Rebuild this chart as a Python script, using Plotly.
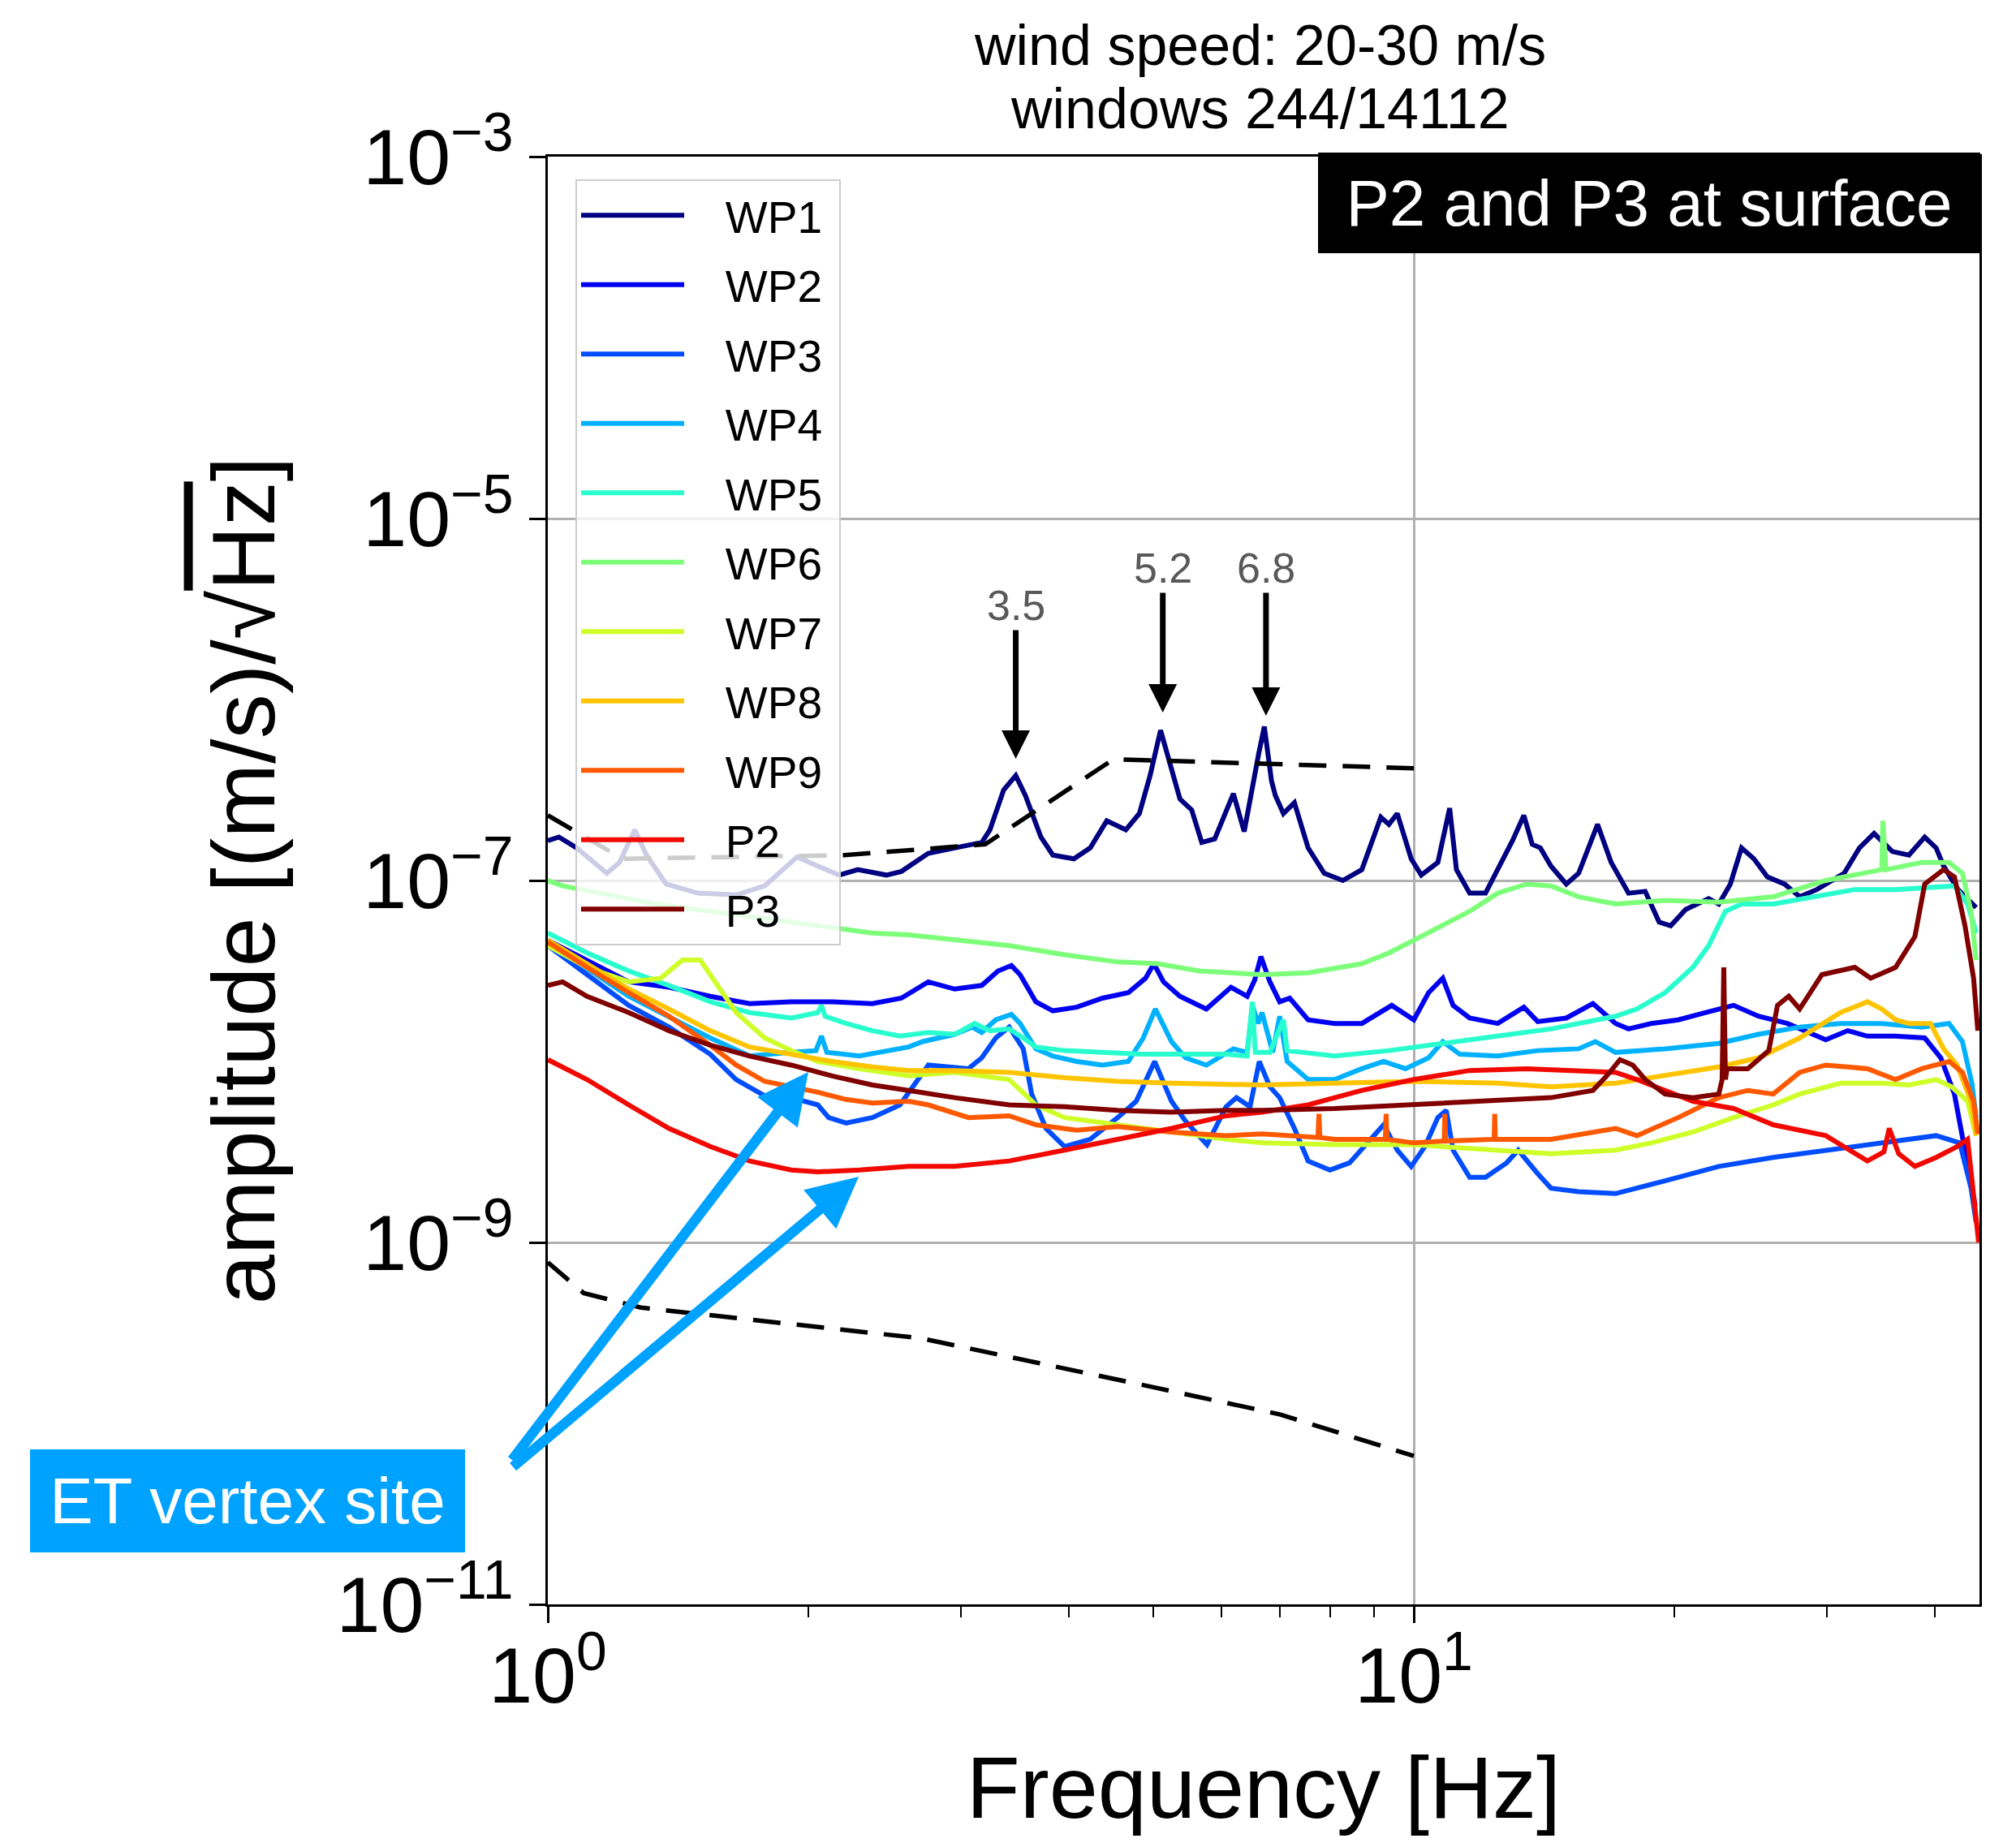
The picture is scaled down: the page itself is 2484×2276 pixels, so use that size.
import math
import plotly.graph_objects as go

FONT = "Liberation Sans, Arial, Helvetica, sans-serif"

# ---------------- data (frequency in Hz, amplitude as log10 of (m/s)/sqrt(Hz)) ----------------
series_names = ["WP1", "WP2", "WP3", "WP4", "WP5", "WP6", "WP7", "WP8", "WP9", "P2", "P3"]
series_colors = ["#000080", "#0000f1", "#004dff", "#00b1ff", "#29ffce", "#7dff7a",
                 "#ceff29", "#ffc400", "#ff5900", "#f10800", "#800000"]

WP1_f = [1.0, 1.03, 1.08, 1.17, 1.21, 1.26, 1.30, 1.37, 1.49, 1.65, 1.78, 1.87, 1.94, 2.05, 2.17, 2.28,
         2.46, 2.56, 2.75, 2.95, 3.17, 3.24, 3.36, 3.47, 3.56, 3.71, 3.83, 4.05, 4.23, 4.42, 4.65, 4.82,
         4.96, 5.10, 5.25, 5.37, 5.54, 5.69, 5.89, 6.19, 6.37, 6.51, 6.62, 6.72, 6.85, 6.92, 7.07, 7.28,
         7.55, 7.88, 8.28, 8.71, 9.16, 9.36, 9.57, 9.93, 10.2, 10.66, 10.8, 11.0, 11.2, 11.6, 12.1, 12.8,
         13.0, 13.4, 13.7, 14.0, 14.4, 15.0, 15.5, 16.3, 16.9, 17.7, 18.5, 19.2, 19.8, 20.6, 21.9, 22.5,
         23.2, 23.9, 24.7, 25.6, 26.8, 27.9, 29.2, 31.4, 32.7, 34.0, 35.7, 37.3, 38.9, 40.1, 40.9, 42.5,
         44.6]
WP1_amp = [-6.78, -6.76, -6.82, -6.96, -6.90, -6.72, -6.86, -7.02, -7.07, -7.08, -7.03, -6.94, -6.87,
           -6.92, -6.97, -6.94, -6.97, -6.95, -6.85, -6.82, -6.79, -6.72, -6.50, -6.42, -6.53, -6.76,
           -6.86, -6.88, -6.82, -6.67, -6.72, -6.63, -6.42, -6.17, -6.38, -6.55, -6.61, -6.79, -6.77,
           -6.52, -6.73, -6.47, -6.30, -6.15, -6.45, -6.53, -6.63, -6.57, -6.82, -6.96, -7.00, -6.94,
           -6.65, -6.69, -6.63, -6.88, -6.97, -6.90, -6.78, -6.60, -6.94, -7.07, -7.07, -6.84, -6.78,
           -6.64, -6.80, -6.82, -6.92, -7.02, -6.96, -6.69, -6.90, -7.07, -7.06, -7.23, -7.25, -7.16,
           -7.10, -7.13, -7.02, -6.82, -6.88, -6.98, -7.02, -7.09, -7.05, -6.96, -6.82, -6.74, -6.84,
           -6.86, -6.76, -6.82, -6.92, -7.05, -7.15]

WP2_f = [1.0, 1.11, 1.24, 1.38, 1.54, 1.71, 1.91, 2.13, 2.37, 2.56, 2.75, 2.95, 3.17, 3.31, 3.43, 3.51,
         3.66, 3.83, 4.08, 4.37, 4.68, 4.90, 5.01, 5.14, 5.37, 5.76, 6.15, 6.42, 6.55, 6.66, 6.82, 7.00,
         7.19, 7.55, 8.10, 8.71, 9.43, 10.0, 10.4, 10.8, 11.1, 11.6, 12.5, 13.4, 13.9, 15.0, 16.1, 17.1,
         17.7, 18.8, 20.2, 21.7, 23.4, 25.0, 27.0, 29.9, 31.7, 33.4, 35.9, 38.9, 40.6, 42.1, 43.3, 44.5]
WP2_amp = [-7.33, -7.44, -7.56, -7.59, -7.64, -7.68, -7.67, -7.67, -7.68, -7.65, -7.56, -7.60, -7.58,
           -7.50, -7.47, -7.52, -7.67, -7.72, -7.70, -7.65, -7.62, -7.54, -7.46, -7.56, -7.64, -7.71,
           -7.59, -7.64, -7.55, -7.42, -7.56, -7.67, -7.65, -7.77, -7.79, -7.79, -7.69, -7.77, -7.62,
           -7.54, -7.69, -7.76, -7.79, -7.70, -7.78, -7.76, -7.68, -7.79, -7.82, -7.79, -7.77, -7.73,
           -7.69, -7.75, -7.79, -7.88, -7.83, -7.86, -7.86, -7.87, -7.98, -8.18, -8.51, -8.80]

WP3_f = [1.0, 1.11, 1.24, 1.38, 1.54, 1.65, 1.78, 1.91, 2.05, 2.11, 2.21, 2.37, 2.55, 2.75, 3.06, 3.17,
         3.29, 3.41, 3.54, 3.62, 3.76, 3.95, 4.23, 4.55, 4.78, 5.02, 5.25, 5.45, 5.77, 6.07, 6.24, 6.47,
         6.63, 6.82, 7.0, 7.28, 7.55, 8.0, 8.43, 8.84, 9.23, 9.57, 9.93, 10.3, 10.66, 10.9, 11.1, 11.6,
         12.1, 12.8, 13.2, 13.9, 14.4, 15.5, 17.1, 19.5, 22.5, 26.0, 29.9, 34.7, 40.1, 42.7, 44.0, 44.6]
WP3_amp = [-7.36, -7.52, -7.69, -7.81, -7.96, -8.10, -8.19, -8.20, -8.24, -8.31, -8.34, -8.31, -8.24,
           -8.02, -8.04, -7.98, -7.87, -7.81, -7.93, -8.18, -8.37, -8.47, -8.43, -8.31, -8.22, -8.00,
           -8.22, -8.33, -8.46, -8.25, -8.20, -8.25, -8.00, -8.14, -8.20, -8.37, -8.55, -8.60, -8.56,
           -8.45, -8.35, -8.49, -8.58, -8.47, -8.31, -8.27, -8.49, -8.64, -8.64, -8.56, -8.49, -8.62,
           -8.70, -8.72, -8.73, -8.66, -8.58, -8.53, -8.49, -8.45, -8.41, -8.45, -8.70, -8.89]

WP4_f = [1.0, 1.24, 1.54, 1.71, 1.91, 2.04, 2.07, 2.10, 2.29, 2.46, 2.61, 2.71, 2.95, 3.09, 3.17, 3.29,
         3.43, 3.51, 3.66, 3.83, 4.08, 4.37, 4.68, 4.87, 5.03, 5.25, 5.45, 5.76, 6.19, 6.42, 6.51, 6.61,
         6.68, 6.87, 7.0, 7.14, 7.55, 8.10, 8.71, 9.23, 9.78, 10.4, 10.8, 11.3, 12.5, 13.9, 15.5, 16.2,
         17.1, 19.5, 22.5, 25.0, 27.9, 31.1, 34.7, 38.6, 41.5, 43.0, 44.1, 44.6]
WP4_amp = [-7.34, -7.64, -7.87, -7.97, -7.95, -7.94, -7.86, -7.95, -7.97, -7.94, -7.92, -7.89, -7.85,
           -7.81, -7.84, -7.77, -7.74, -7.79, -7.93, -7.97, -8.00, -8.02, -8.00, -7.87, -7.71, -7.89,
           -7.98, -8.02, -7.93, -7.95, -7.69, -7.79, -7.73, -7.95, -7.75, -8.00, -8.10, -8.10, -8.04,
           -8.00, -8.04, -7.98, -7.89, -7.96, -7.97, -7.94, -7.93, -7.89, -7.95, -7.93, -7.90, -7.85,
           -7.81, -7.79, -7.79, -7.81, -7.79, -7.89, -8.12, -8.31]

WP5_f = [1.0, 1.11, 1.24, 1.38, 1.54, 1.71, 1.91, 2.05, 2.07, 2.09, 2.21, 2.37, 2.55, 2.75, 2.95, 3.11,
         3.24, 3.41, 3.54, 3.66, 3.95, 4.37, 4.84, 5.45, 6.07, 6.42, 6.51, 6.56, 6.82, 7.07, 7.14, 8.10,
         9.36, 10.8, 12.5, 14.4, 17.1, 18.1, 19.5, 21.0, 21.9, 22.9, 23.9, 26.0, 29.0, 32.3, 36.0, 40.1,
         42.1, 43.6, 44.6]
WP5_amp = [-7.29, -7.40, -7.50, -7.58, -7.67, -7.73, -7.76, -7.73, -7.69, -7.75, -7.79, -7.83, -7.86,
           -7.84, -7.85, -7.79, -7.83, -7.82, -7.87, -7.92, -7.94, -7.95, -7.96, -7.96, -7.96, -7.97,
           -7.67, -7.95, -7.95, -7.77, -7.94, -7.97, -7.94, -7.90, -7.86, -7.82, -7.75, -7.71, -7.62,
           -7.48, -7.36, -7.17, -7.13, -7.13, -7.09, -7.05, -7.05, -7.04, -7.03, -7.13, -7.29]

WP6_f = [1.0, 1.04, 1.15, 1.33, 1.54, 1.78, 2.05, 2.37, 2.61, 2.95, 3.41, 3.95, 4.55, 5.06, 5.65, 6.68,
         7.55, 8.71, 9.36, 10.0, 10.8, 11.6, 12.5, 13.5, 14.4, 15.5, 17.1, 19.5, 22.5, 26.0, 29.9, 33.4,
         34.7, 34.8, 35.1, 38.6, 41.5, 43.0, 44.0, 44.6]
WP6_amp = [-7.00, -7.03, -7.07, -7.13, -7.17, -7.21, -7.25, -7.29, -7.30, -7.33, -7.36, -7.41, -7.45,
           -7.46, -7.50, -7.52, -7.51, -7.46, -7.40, -7.33, -7.25, -7.17, -7.07, -7.02, -7.03, -7.09,
           -7.13, -7.11, -7.12, -7.09, -7.00, -6.96, -6.94, -6.67, -6.94, -6.90, -6.90, -6.96, -7.17,
           -7.44]

WP7_f = [1.0, 1.11, 1.24, 1.35, 1.43, 1.50, 1.56, 1.65, 1.78, 1.91, 2.05, 2.29, 2.61, 2.95, 3.41, 3.66,
         3.95, 4.55, 5.25, 6.07, 6.68, 8.10, 10.0, 12.5, 14.4, 17.1, 18.8, 21.0, 23.4, 26.0, 27.9, 31.1,
         34.7, 37.3, 40.1, 41.8, 43.6, 44.6]
WP7_amp = [-7.36, -7.48, -7.56, -7.54, -7.44, -7.44, -7.56, -7.73, -7.87, -7.94, -8.00, -8.04, -8.08,
           -8.06, -8.10, -8.24, -8.31, -8.35, -8.39, -8.43, -8.45, -8.46, -8.46, -8.49, -8.51, -8.49,
           -8.45, -8.39, -8.31, -8.24, -8.18, -8.12, -8.12, -8.13, -8.10, -8.14, -8.22, -8.41]

WP8_f = [1.0, 1.11, 1.24, 1.38, 1.54, 1.71, 1.91, 2.13, 2.37, 2.61, 2.95, 3.41, 3.95, 4.55, 5.25, 6.07,
         6.68, 8.10, 10.0, 12.5, 14.4, 17.1, 19.5, 22.5, 25.0, 27.9, 31.1, 33.4, 34.7, 36.0, 37.3, 39.5,
         40.9, 42.4, 44.0, 44.6]
WP8_amp = [-7.33, -7.46, -7.60, -7.71, -7.83, -7.92, -7.96, -8.00, -8.03, -8.05, -8.05, -8.06, -8.09,
           -8.11, -8.12, -8.13, -8.13, -8.12, -8.11, -8.12, -8.14, -8.12, -8.08, -8.03, -7.98, -7.87,
           -7.73, -7.67, -7.71, -7.77, -7.79, -7.79, -7.93, -8.02, -8.22, -8.41]

WP9_f = [1.0, 1.11, 1.24, 1.38, 1.54, 1.65, 1.78, 1.91, 2.05, 2.21, 2.37, 2.61, 2.75, 3.06, 3.41, 3.66,
         4.08, 4.55, 5.25, 6.07, 6.68, 7.75, 7.77, 7.79, 8.10, 9.27, 9.29, 9.31, 10.0, 10.84, 10.86,
         10.88, 12.38, 12.40, 12.42, 14.4, 17.1, 18.1, 20.2, 22.5, 24.3, 26.0, 27.9, 29.9, 33.4, 36.0,
         38.6, 41.5, 43.0, 44.3, 44.8]
WP9_amp = [-7.34, -7.48, -7.62, -7.75, -7.91, -8.02, -8.11, -8.14, -8.17, -8.21, -8.23, -8.22, -8.24,
           -8.31, -8.30, -8.35, -8.38, -8.36, -8.39, -8.41, -8.40, -8.42, -8.29, -8.42, -8.43, -8.43,
           -8.29, -8.43, -8.45, -8.44, -8.29, -8.44, -8.43, -8.29, -8.43, -8.43, -8.37, -8.41, -8.31,
           -8.20, -8.16, -8.18, -8.06, -8.02, -8.04, -8.10, -8.04, -8.00, -8.06, -8.22, -8.40]

P2_f = [1.0, 1.11, 1.24, 1.38, 1.54, 1.71, 1.91, 2.05, 2.29, 2.61, 2.95, 3.41, 3.95, 4.55, 5.25, 6.07,
        6.68, 7.55, 8.71, 10.0, 11.6, 13.5, 15.5, 17.1, 18.1, 19.5, 21.0, 23.4, 26.0, 29.9, 33.4, 34.9,
        35.4, 36.3, 37.9, 40.1, 42.4, 43.6, 44.4, 44.9]
P2_amp = [-7.99, -8.10, -8.24, -8.37, -8.47, -8.55, -8.60, -8.61, -8.60, -8.58, -8.58, -8.55, -8.49,
          -8.43, -8.37, -8.30, -8.28, -8.24, -8.16, -8.10, -8.05, -8.04, -8.05, -8.06, -8.10, -8.16,
          -8.22, -8.26, -8.35, -8.41, -8.55, -8.50, -8.37, -8.51, -8.58, -8.53, -8.47, -8.43, -8.76,
          -9.00]

P3_f = [1.0, 1.04, 1.11, 1.24, 1.38, 1.54, 1.71, 1.91, 2.13, 2.37, 2.61, 2.95, 3.41, 3.95, 4.55, 5.25,
        6.07, 6.68, 8.10, 10.0, 12.5, 14.4, 16.1, 16.7, 17.3, 17.9, 18.5, 19.5, 21.0, 22.5, 22.7, 22.8,
        22.9, 23.0, 24.3, 25.7, 26.3, 27.1, 27.9, 29.6, 32.3, 33.7, 36.0, 37.9, 38.9, 40.9, 42.1, 43.3,
        44.3, 44.8]
P3_amp = [-7.58, -7.56, -7.64, -7.73, -7.83, -7.91, -7.97, -8.02, -8.08, -8.13, -8.16, -8.20, -8.24,
          -8.25, -8.27, -8.28, -8.27, -8.27, -8.26, -8.24, -8.22, -8.20, -8.16, -8.08, -7.99, -8.02,
          -8.10, -8.18, -8.20, -8.18, -8.10, -7.48, -8.10, -8.04, -8.04, -7.94, -7.69, -7.64, -7.71,
          -7.52, -7.48, -7.54, -7.48, -7.31, -7.02, -6.94, -6.98, -7.25, -7.54, -7.83]

# reference (dashed) curves
upper_ref_f = [1.0, 1.22, 2.2, 3.2, 4.5, 10.0]
upper_ref_amp = [-6.64, -6.88, -6.86, -6.80, -6.33, -6.38]
lower_ref_f = [1.0, 1.1, 1.28, 2.0, 2.7, 5.0, 7.0, 10.0]
lower_ref_amp = [-9.11, -9.28, -9.36, -9.46, -9.53, -9.80, -9.95, -10.18]

# peak markers
peak_labels = ["3.5", "5.2", "6.8"]
peak_f = [3.47, 5.13, 6.75]
peak_amp = [-6.327, -6.072, -6.090]

# axis ticks
y_tickvals = [1e-11, 1e-9, 1e-7, 1e-5, 1e-3]
y_ticktext = ["10<sup>\u221211</sup>", "10<sup>\u22129</sup>", "10<sup>\u22127</sup>",
              "10<sup>\u22125</sup>", "10<sup>\u22123</sup>"]
x_tickvals = [1, 10]
x_ticktext = ["10<sup>0</sup>", "10<sup>1</sup>"]
x_minor_tickvals = [2, 3, 4, 5, 6, 7, 8, 9, 20, 30, 40]

series_f = [WP1_f, WP2_f, WP3_f, WP4_f, WP5_f, WP6_f, WP7_f, WP8_f, WP9_f, P2_f, P3_f]
series_amp = [WP1_amp, WP2_amp, WP3_amp, WP4_amp, WP5_amp, WP6_amp, WP7_amp, WP8_amp, WP9_amp,
              P2_amp, P3_amp]

# ---------------- figure ----------------
fig = go.Figure()
LEG_PAD = "\u00a0\u00a0\u00a0"
for name, color, f, a in zip(series_names, series_colors, series_f, series_amp):
    fig.add_trace(go.Scatter(
        x=f, y=[10 ** v for v in a], mode="lines", name=LEG_PAD + name + "\u00a0",
        legendgroup=name, line=dict(color=color, width=6)))

for f, a in [(upper_ref_f, upper_ref_amp), (lower_ref_f, lower_ref_amp)]:
    fig.add_trace(go.Scatter(
        x=f, y=[10 ** v for v in a], mode="lines", showlegend=False,
        line=dict(color="black", width=5.5, dash="34px,20px")))

annotations = []
# title lines
annotations.append(dict(text="wind speed: 20-30 m/s", xref="paper", yref="paper", x=0.4977, y=1.0768,
                        xanchor="center", yanchor="middle", showarrow=False,
                        font=dict(size=70, color="black", family=FONT)))
annotations.append(dict(text="windows 244/14112", xref="paper", yref="paper", x=0.4977, y=1.0331,
                        xanchor="center", yanchor="middle", showarrow=False,
                        font=dict(size=70, color="black", family=FONT)))
# peak arrows
for lab, f, a, ay in zip(peak_labels, peak_f, peak_amp, [-189, -178, -182]):
    annotations.append(dict(text=lab, x=math.log10(f), y=a, xref="x", yref="y",
                            showarrow=True, arrowhead=2, arrowsize=1.0, arrowwidth=7,
                            arrowcolor="black", ax=0, ay=ay,
                            font=dict(size=52, color="#595959", family=FONT)))
# boxes
annotations.append(dict(text="P2 and P3 at surface", xref="paper", yref="paper", x=0.7693, y=0.968,
                        xanchor="center", yanchor="middle", showarrow=False, bgcolor="black",
                        width=816, height=124, borderpad=0, borderwidth=0,
                        font=dict(size=80, color="white", family=FONT)))
annotations.append(dict(text="ET vertex site", xref="paper", yref="paper", x=-0.2098, y=0.0712,
                        xanchor="center", yanchor="middle", showarrow=False, bgcolor="#00a2ff",
                        width=536, height=127, borderpad=0, borderwidth=0,
                        font=dict(size=80, color="white", family=FONT)))
# blue arrows
for tx, ty, ax, ay in [(0.3008, -8.058, -368, 482), (0.359, -8.637, -429, 360)]:
    annotations.append(dict(text=" ", x=tx, y=ty, xref="x", yref="y", showarrow=True,
                            arrowhead=2, arrowsize=1.0, arrowwidth=12.5, arrowcolor="#00a2ff",
                            ax=ax, ay=ay, font=dict(size=10)))

fig.update_layout(
    width=2484, height=2276,
    margin=dict(l=675, r=45, t=193, b=299, autoexpand=False),
    paper_bgcolor="white", plot_bgcolor="white",
    font=dict(family=FONT, color="black"),
    showlegend=True,
    legend=dict(x=(709 - 675) / 1764, y=1 - (221 - 193) / 1784, xanchor="left", yanchor="top",
                bgcolor="rgba(255,255,255,0.8)", bordercolor="#cccccc", borderwidth=2,
                font=dict(size=55, family=FONT, color="black"), itemwidth=127, tracegroupgap=11),
    annotations=annotations,
)
fig.update_xaxes(
    type="log", range=[0, 1.6532], tickvals=x_tickvals, ticktext=x_ticktext,
    ticks="outside", ticklen=20, tickwidth=2.5, tickcolor="black",
    showgrid=True, gridcolor="#b0b0b0", gridwidth=2.5,
    showline=True, linecolor="black", linewidth=3, mirror=True, zeroline=False,
    tickfont=dict(size=97, family=FONT, color="black"), ticklabelstandoff=-18,
    minor=dict(tickvals=x_minor_tickvals, ticks="outside", ticklen=13,
               tickwidth=2, tickcolor="black", showgrid=False),
    title=dict(text="Frequency [Hz]", font=dict(size=108, family=FONT, color="black"), standoff=46),
    automargin=False,
)
fig.update_yaxes(
    type="log", range=[-11, -3], tickvals=y_tickvals, ticktext=y_ticktext,
    ticks="outside", ticklen=20, tickwidth=2.5, tickcolor="black",
    showgrid=True, gridcolor="#b0b0b0", gridwidth=2.5,
    showline=True, linecolor="black", linewidth=3, mirror=True, zeroline=False,
    tickfont=dict(size=97, family=FONT, color="black"),
    title=dict(text="amplitude [(m/s)/\u221a<span style='text-decoration:overline'>Hz</span>]",
               font=dict(size=110, family=FONT, color="black"), standoff=40),
    automargin=False,
)

fig.write_html("out.html")
